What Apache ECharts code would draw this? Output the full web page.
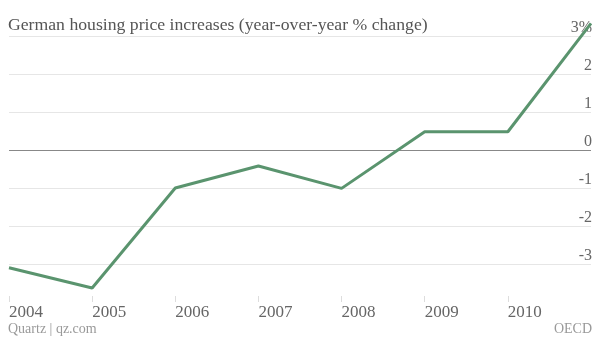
<!DOCTYPE html>
<html><head><meta charset="utf-8">
<script src="https://cdn.jsdelivr.net/npm/echarts@6/dist/echarts.min.js"></script>
<style>html,body{margin:0;padding:0;background:#fff}#c{width:600px;height:338px}</style>
</head><body><div id="c"></div>
<script>
const years = ['2004','2005','2006','2007','2008','2009','2010','2011'];
const priceChange = [-3.1, -3.63, -1.0, -0.42, -1.01, 0.48, 0.48, 3.33];
const yTicks = [-4, -3, -2, -1, 0, 1, 2, 3];
const yTickLabels = ['', '-3', '-2', '-1', '0', '1', '2', '3%'];

const FONT = '"Liberation Serif", "DejaVu Serif", serif';
const chart = echarts.init(document.getElementById('c'), null, {renderer: 'canvas'});
chart.setOption({
  animation: false,
  backgroundColor: '#fff',
  title: [
    {text: 'German housing price increases (year-over-year % change)', left: 8, top: 16, padding: 0,
     textStyle: {fontFamily: FONT, fontSize: 17.7, fontWeight: 'normal', color: '#555'}},
    {text: 'Quartz | qz.com', left: 8, top: 322, padding: 0,
     textStyle: {fontFamily: FONT, fontSize: 14, fontWeight: 'normal', color: '#999'}},
    {text: 'OECD', right: 8, top: 322, padding: 0,
     textStyle: {fontFamily: FONT, fontSize: 14, fontWeight: 'normal', color: '#999'}}
  ],
  grid: {left: 9, right: 9, top: 36, bottom: 36, containLabel: false},
  xAxis: {
    type: 'category', data: years, boundaryGap: false,
    axisLine: {show: false, onZero: false},
    axisTick: {show: true, inside: true, length: 6, interval: (i) => i < 7,
               lineStyle: {color: '#ddd'}},
    axisLabel: {fontFamily: FONT, fontSize: 17, color: '#666', align: 'left', margin: 2,
                interval: 0, formatter: (v) => v === '2011' ? '' : v},
    splitLine: {show: false}
  },
  yAxis: {
    type: 'value', position: 'right', min: yTicks[0], max: yTicks[yTicks.length - 1], interval: 1,
    axisLine: {show: false}, axisTick: {show: false},
    axisLabel: {inside: true, margin: -1, verticalAlign: 'bottom', fontFamily: FONT, fontSize: 16,
                color: '#666', formatter: (v) => yTickLabels[yTicks.indexOf(v)]},
    splitLine: {show: true, lineStyle: {width: 1,
      color: yTicks.map(v => v === -4 ? 'rgba(0,0,0,0)' : (v === 0 ? '#888' : '#e6e6e6'))}}
  },
  series: [{
    type: 'line', data: priceChange, symbol: 'none', clip: false,
    lineStyle: {color: '#5a946e', width: 3}
  }]
});
</script></body></html>
